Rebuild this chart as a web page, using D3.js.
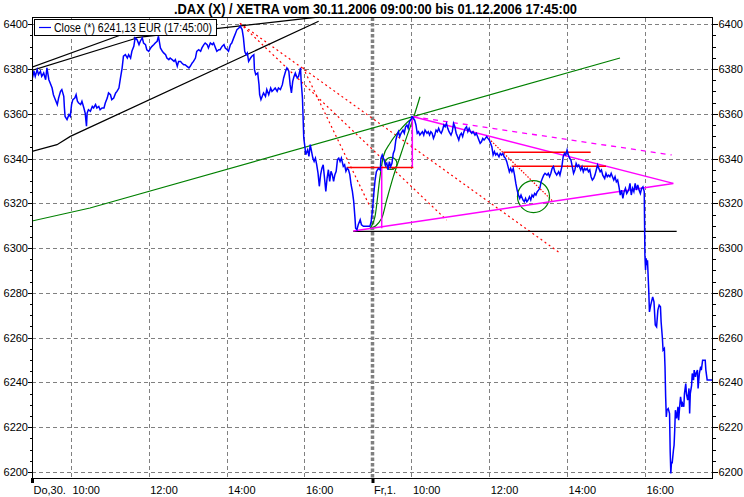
<!DOCTYPE html>
<html><head><meta charset="utf-8">
<script src="https://cdn.jsdelivr.net/npm/d3@7"></script>
<style>body{margin:0;background:#fff}svg{display:block}</style>
</head><body><svg id="c" width="744" height="497"></svg>
<script>
// ---------- data ----------
const titleText = ".DAX (X) / XETRA vom 30.11.2006 09:00:00 bis 01.12.2006 17:45:00";
const legendText = "Close (*) 6241,13 EUR (17:45:00)";
const yTicks = [6200,6220,6240,6260,6280,6300,6320,6340,6360,6380,6400];
// trading minutes since 30.11. 09:00 (each session 09:00-17:45 = 525 min)
const xTickMinutes = [0,60,180,300,420,525,585,705,825,945];
const xTickLabels = ["Do,30.","10:00","12:00","14:00","16:00","Fr,1.","10:00","12:00","14:00","16:00"];
const dayStarts = [0,525];

const day1 = [[0,6375.2],[3,6379.0],[5,6376.7],[8,6379.7],[10,6377.5],[13,6379.0],[15,6376.7],[18,6378.2],[21,6375.2],[23,6380.5],
[26,6375.2],[28,6373.7],[31,6371.5],[33,6368.5],[36,6366.3],[39,6364.1],[41,6367.0],[44,6370.0],[46,6370.8],[49,6367.8],
[50,6362.6],[51,6358.8],[54,6357.4],[57,6359.6],[59,6358.8],[61,6364.1],[63,6366.3],[66,6367.0],[68,6368.5],[70,6365.6],
[72,6364.8],[75,6364.1],[77,6365.6],[80,6362.6],[82,6360.3],[84,6354.4],[85,6360.3],[87,6361.8],[90,6361.1],[93,6363.3],
[95,6362.6],[98,6364.1],[100,6362.6],[103,6363.3],[105,6361.8],[108,6362.6],[111,6362.6],[113,6364.8],[116,6367.0],[118,6369.3],
[121,6368.5],[123,6366.3],[126,6367.0],[129,6369.3],[131,6370.0],[134,6371.5],[136,6375.2],[139,6380.5],[141,6385.7],[144,6386.4],
[147,6384.9],[149,6386.4],[152,6384.9],[154,6387.9],[157,6390.1],[159,6393.9],[162,6393.1],[165,6390.9],[167,6392.4],[170,6393.9],
[172,6391.6],[175,6390.9],[177,6388.6],[180,6387.9],[183,6389.4],[185,6390.1],[188,6390.9],[190,6391.6],[193,6392.4],[195,6394.6],
[198,6389.4],[201,6387.9],[203,6387.2],[206,6386.4],[208,6384.9],[211,6384.2],[213,6384.9],[216,6384.2],[219,6383.4],[221,6384.2],
[224,6381.2],[226,6383.4],[229,6383.4],[231,6382.7],[234,6381.9],[236,6381.9],[239,6381.2],[242,6380.5],[244,6381.2],[247,6382.7],
[249,6383.4],[252,6384.9],[254,6387.9],[257,6388.6],[260,6387.9],[262,6389.4],[265,6390.9],[267,6391.6],[270,6390.9],[272,6389.4],
[275,6391.6],[278,6390.9],[280,6391.6],[283,6389.4],[285,6387.9],[288,6388.6],[290,6388.6],[293,6390.1],[296,6390.9],[298,6389.4],
[301,6388.6],[303,6387.9],[306,6390.9],[308,6391.6],[311,6393.9],[314,6396.1],[316,6397.6],[319,6398.3],[321,6399.1],[324,6397.6],
[326,6393.9],[328,6387.9],[330,6386.4],[332,6387.2],[334,6383.4],[337,6384.9],[339,6385.7],[342,6386.4],[343,6379.7],[345,6377.5],
[348,6378.2],[350,6373.0],[351,6368.5],[353,6366.3],[355,6367.8],[357,6369.3],[360,6367.8],[362,6370.8],[365,6368.5],[368,6371.5],
[370,6370.0],[373,6370.8],[375,6371.5],[378,6370.0],[380,6371.5],[383,6370.8],[386,6373.0],[388,6376.0],[391,6379.0],[393,6380.5],
[396,6379.0],[398,6373.0],[400,6369.3],[402,6374.5],[404,6376.7],[406,6378.2],[409,6376.0],[411,6376.7],[414,6380.5],[415,6374.5],
[417,6367.0],[419,6349.2],[421,6344.7],[422,6341.7],[425,6343.9],[427,6341.0],[429,6346.2],[431,6343.2],[433,6340.2],[435,6338.7],
[437,6340.2],[439,6337.2],[441,6333.5],[443,6327.6],[445,6332.8],[447,6335.7],[449,6337.2],[451,6331.3],[453,6325.3],[455,6331.3],
[457,6335.0],[459,6329.8],[461,6334.3],[463,6332.8],[465,6329.8],[467,6332.8],[469,6334.3],[471,6339.5],[473,6340.2],[475,6338.7],
[477,6340.2],[480,6336.5],[482,6337.2],[484,6334.3],[486,6335.7],[488,6335.0],[490,6332.8],[492,6328.3],[494,6325.3],[496,6320.9],
[498,6313.4],[499,6308.9],[501,6308.2],[503,6310.4],[506,6312.7],[508,6310.4],[511,6309.7],[516,6309.7],[521,6309.7],[523,6311.9]];

const day2 = [[525,6317.0],[527,6324.4],[529,6330.4],[531,6334.1],[534,6335.6],[537,6334.9],[538,6340.1],[540,6341.6],[543,6339.3],[545,6337.1],
[547,6337.9],[549,6334.9],[551,6338.6],[553,6336.4],[555,6337.9],[557,6342.3],[559,6343.8],[561,6348.3],[563,6350.5],[565,6352.0],
[567,6349.8],[569,6351.3],[572,6352.7],[574,6351.3],[576,6354.2],[578,6355.0],[580,6353.5],[582,6356.5],[584,6357.2],[586,6358.7],
[588,6358.0],[590,6357.2],[592,6355.0],[594,6351.3],[596,6352.0],[598,6350.5],[600,6351.3],[602,6352.0],[604,6350.5],[606,6352.7],
[609,6351.3],[611,6352.0],[613,6350.5],[615,6352.0],[617,6351.3],[619,6349.0],[621,6350.5],[623,6352.7],[625,6352.0],[627,6353.5],
[629,6352.0],[631,6351.3],[633,6352.7],[635,6355.0],[637,6354.2],[639,6355.7],[641,6353.5],[643,6352.0],[646,6350.5],[648,6352.0],
[650,6355.7],[652,6354.2],[654,6351.3],[656,6349.8],[658,6348.3],[660,6350.5],[662,6351.3],[664,6349.8],[666,6352.0],[668,6353.5],
[670,6354.2],[672,6352.0],[674,6353.5],[676,6352.0],[678,6351.3],[680,6352.0],[683,6350.5],[685,6351.3],[687,6349.8],[689,6348.3],
[691,6346.8],[693,6347.5],[695,6349.0],[697,6348.3],[699,6349.0],[701,6349.8],[703,6349.0],[705,6348.3],[707,6346.8],[709,6345.3],
[711,6341.6],[713,6343.1],[715,6341.6],[717,6342.3],[720,6340.8],[722,6342.3],[724,6341.6],[726,6342.3],[728,6340.8],[730,6340.1],
[732,6338.6],[734,6336.4],[736,6334.1],[738,6335.6],[740,6334.1],[742,6335.6],[744,6332.6],[746,6328.9],[748,6325.9],[750,6323.7],
[752,6322.2],[754,6323.7],[757,6321.5],[759,6320.7],[761,6322.2],[763,6320.7],[765,6321.5],[767,6322.9],[769,6321.5],[771,6323.7],
[773,6322.9],[775,6324.4],[777,6323.7],[779,6325.2],[781,6325.9],[783,6326.7],[785,6329.7],[787,6331.2],[789,6332.6],[791,6333.4],
[794,6332.6],[796,6333.4],[798,6331.9],[800,6333.4],[802,6335.6],[804,6336.4],[806,6334.1],[809,6332.6],[812,6334.1],[814,6332.6],
[817,6336.4],[819,6340.8],[821,6342.3],[823,6341.6],[825,6343.8],[827,6341.6],[829,6340.1],[831,6339.3],[833,6336.4],[835,6333.4],
[837,6334.9],[839,6337.8],[841,6336.4],[843,6337.1],[846,6334.9],[848,6336.4],[850,6334.1],[852,6335.6],[854,6334.9],[856,6335.6],
[858,6334.1],[860,6334.9],[862,6331.9],[864,6330.4],[866,6331.1],[868,6332.6],[870,6334.9],[872,6337.1],[874,6335.6],[876,6334.1],
[878,6334.9],[880,6332.6],[883,6331.1],[885,6333.4],[887,6331.9],[889,6332.6],[891,6331.9],[893,6333.4],[895,6331.9],[897,6330.4],
[899,6331.9],[901,6329.6],[903,6330.4],[905,6327.4],[907,6323.7],[909,6325.9],[911,6322.2],[913,6325.2],[915,6326.7],[917,6324.4],
[920,6325.9],[922,6328.9],[924,6323.7],[926,6326.7],[928,6325.2],[930,6328.9],[932,6325.9],[934,6328.2],[936,6325.9],[938,6324.4],
[940,6326.7],[942,6327.4],[944,6325.2],[945,6296.9],[946,6290.2],[947,6295.4],[948,6292.4],[949,6294.6],[951,6280.5],[952,6271.5],
[954,6274.5],[957,6278.2],[959,6276.0],[961,6265.6],[963,6264.8],[965,6272.3],[967,6274.5],[969,6273.8],[970,6267.1],[972,6259.6],
[973,6254.4],[975,6255.2],[976,6247.0],[977,6233.6],[978,6224.6],[979,6227.6],[981,6228.3],[983,6226.1],[984,6209.0],[985,6199.3],
[986,6204.5],[987,6203.8],[989,6209.7],[990,6212.0],[991,6218.7],[992,6227.6],[994,6223.9],[996,6229.1],[997,6223.1],[999,6230.6],
[1000,6233.6],[1002,6229.1],[1003,6230.6],[1005,6229.1],[1006,6235.0],[1008,6239.5],[1009,6235.0],[1011,6232.1],[1013,6237.3],[1014,6226.1],
[1015,6235.0],[1017,6238.7],[1018,6244.0],[1020,6241.0],[1021,6245.5],[1023,6242.5],[1024,6244.0],[1026,6245.5],[1027,6237.3],[1029,6244.0],
[1031,6247.0],[1032,6245.5],[1034,6249.9],[1038,6249.9],[1039,6245.5],[1041,6241.13],[1050,6241.13]];

// drawn analysis lines, in [minute, index value]
const blackLines = [
  [[0,6380.8],[166.5,6398.3]],
  [[0,6379.4],[159.3,6393.6]],
  [[156.8,6393.9],[444,6403.3]],
  [[0,6343.2],[38.5,6346.2],[59.1,6349.9],[442,6401.3]],
  [[495.4,6307.5],[994,6307.5]]
];
const greenLines = [
  [[0,6312.1],[89.4,6317.9],[906.6,6384.9]]
];
const greenArcs = [
  [[521.1,6308.8],[528.8,6314.0],[536.6,6331.9],[541.6,6340.8],[552,6346.8],[567.4,6352.7],[582.8,6357.2],[590.5,6358.7]],
  [[521.1,6308.5],[539.2,6313.3],[546.9,6321.5],[557.1,6331.9],[567.4,6340.8],[577.7,6349.7],[587.9,6358.0],[598.2,6367.6]]
];
const greenCircles = [[553.5,6337.8,6],[773.2,6323.0,16]];
const magentaLines = [
  [[495.4,6307.6],[988.8,6328.9]],
  [[587.9,6358.7],[988.8,6328.9]],
  [[539.2,6336.7],[539.2,6308.9]],
  [[586.4,6358.7],[586.4,6335.8]]
];
const magentaDashed = [[[587.9,6358.7],[986.3,6341.6]]];
const redLines = [
  [[485.2,6336.0],[587.9,6336.0]],
  [[726.7,6342.8],[861.4,6342.8]],
  [[739.6,6336.6],[885.0,6336.6]]
];
const redDotted = [
  [[320.7,6400.4],[814.1,6297.8]],
  [[320.7,6400.4],[639.4,6312.5]],
  [[417.8,6380.7],[521.1,6318.5]]
];
const redFineDotted = [
  [[701.1,6349.8],[803.8,6320.7]]
];

// ---------- chart ----------
const svg = d3.select("#c");
const L = 32, R = 713, T = 17.5, B = 478;
const x = d3.scaleLinear().domain([0,1050]).range([L,R]);
const y = d3.scaleLinear().domain([6197.3,6403.0]).range([B,T]);
const font = "'Liberation Sans', Arial, sans-serif";

svg.append("rect").attr("width",744).attr("height",497).attr("fill","#fff");

// title
svg.append("text").attr("x",375.5).attr("y",14).attr("text-anchor","middle")
  .attr("font-family","'Liberation Sans Narrow', 'Liberation Sans', Arial, sans-serif")
  .attr("font-size",15).attr("font-weight","bold")
  .attr("textLength",403).attr("lengthAdjust","spacingAndGlyphs")
  .text(titleText);

const defs = svg.append("defs");
defs.append("clipPath").attr("id","plot").append("rect")
  .attr("x",L).attr("y",T).attr("width",R-L).attr("height",B-T);

// grid
const grid = svg.append("g").attr("shape-rendering","crispEdges");
grid.selectAll("line.h").data(yTicks).join("line")
  .attr("x1",L).attr("x2",R).attr("y1",d=>Math.round(y(d))+0.5).attr("y2",d=>Math.round(y(d))+0.5)
  .attr("stroke","#808080").attr("stroke-dasharray","4,3");
grid.selectAll("line.v").data(xTickMinutes.filter(m=>!dayStarts.includes(m))).join("line")
  .attr("y1",T).attr("y2",B).attr("x1",d=>Math.round(x(d))+0.5).attr("x2",d=>Math.round(x(d))+0.5)
  .attr("stroke","#808080").attr("stroke-dasharray","4,3");
// day separator
svg.append("g").selectAll("line").data(dayStarts.filter(d=>d>0)).join("line")
  .attr("y1",T).attr("y2",B).attr("x1",d=>x(d)).attr("x2",d=>x(d))
  .attr("stroke","#808080").attr("stroke-width",3.5).attr("stroke-dasharray","3.5,2");

// overlays
const ov = svg.append("g").attr("clip-path","url(#plot)");
const line = d3.line().x(d=>x(d[0])).y(d=>y(d[1]));
const curve = d3.line().x(d=>x(d[0])).y(d=>y(d[1])).curve(d3.curveMonotoneX);
function draw(data, gen, color, width, dash){
  ov.append("g").selectAll("path").data(data).join("path")
    .attr("d",gen).attr("fill","none").attr("stroke",color).attr("stroke-width",width)
    .attr("stroke-dasharray",dash||null);
}
draw(redDotted, line, "#ff0000", 1.2, "2,3");
draw(redFineDotted, line, "#ff0000", 1.2, "1.5,1.5");
draw(blackLines, line, "#000000", 1.2);
draw(greenLines, line, "#008000", 1.2);
draw(greenArcs, curve, "#008000", 1.2);
ov.append("g").selectAll("circle").data(greenCircles).join("circle")
  .attr("cx",d=>x(d[0])).attr("cy",d=>y(d[1])).attr("r",d=>d[2])
  .attr("fill","none").attr("stroke","#008000").attr("stroke-width",1.2);
draw(magentaDashed, line, "#ff00ff", 1.3, "5,5");
draw(magentaLines, line, "#ff00ff", 1.5);
draw(redLines, line, "#ff0000", 1.5);

// price line
ov.append("g").selectAll("path").data([day1.concat(day2)]).join("path")
  .attr("d",line).attr("fill","none").attr("stroke","#0000ff").attr("stroke-width",1.5)
  .attr("stroke-linejoin","miter");

// frame
svg.append("rect").attr("x",L+0.5).attr("y",T).attr("width",R-L-1).attr("height",B-T)
  .attr("fill","none").attr("stroke","#000").attr("shape-rendering","crispEdges");

// axes
const minor = d3.range(6200,6401,5).filter(v=>v%20!==0);
function styleAxis(g){
  g.attr("shape-rendering","crispEdges");
  g.select(".domain").remove();
  g.selectAll("text").attr("font-family",font).attr("font-size",11).attr("fill","#000");
}
svg.append("g").attr("transform",`translate(${L+0.5},0)`)
  .call(d3.axisLeft(y).tickValues(yTicks).tickSize(5).tickPadding(-0.5).tickFormat(d3.format("d")))
  .call(styleAxis);
svg.append("g").attr("transform",`translate(${L+0.5},0)`)
  .call(d3.axisLeft(y).tickValues(minor).tickSize(3).tickFormat(""))
  .call(styleAxis);
svg.append("g").attr("transform",`translate(${R-0.5},0)`)
  .call(d3.axisRight(y).tickValues(yTicks).tickSize(5).tickPadding(1).tickFormat(d3.format("d")))
  .call(styleAxis);
svg.append("g").attr("transform",`translate(${R-0.5},0)`)
  .call(d3.axisRight(y).tickValues(minor).tickSize(3).tickFormat(""))
  .call(styleAxis);
const xa = svg.append("g").attr("transform",`translate(0,${B})`)
  .call(d3.axisBottom(x).tickValues(xTickMinutes).tickSize(0).tickPadding(6)
     .tickFormat((d,i)=>xTickLabels[i]))
  .call(styleAxis);
xa.selectAll("text").attr("text-anchor","start").attr("dx",1).attr("dy","0.9em");
// day-start ticks
svg.append("g").selectAll("line").data(dayStarts).join("line")
  .attr("x1",d=>x(d)+0.5).attr("x2",d=>x(d)+0.5).attr("y1",B).attr("y2",B+5)
  .attr("stroke","#000").attr("stroke-width",3);

// legend
const lg = svg.append("g");
lg.append("rect").attr("x",34.5).attr("y",19.5).attr("width",182).attr("height",16)
  .attr("fill","#fff").attr("stroke","#000").attr("shape-rendering","crispEdges");
lg.append("line").attr("x1",39).attr("x2",51).attr("y1",27.5).attr("y2",27.5).attr("stroke","#0000ff").attr("stroke-width",1.2);
lg.append("text").attr("x",54).attr("y",32).attr("font-family",font).attr("font-size",12)
  .attr("textLength",158).attr("lengthAdjust","spacingAndGlyphs").text(legendText);
</script></body></html>
